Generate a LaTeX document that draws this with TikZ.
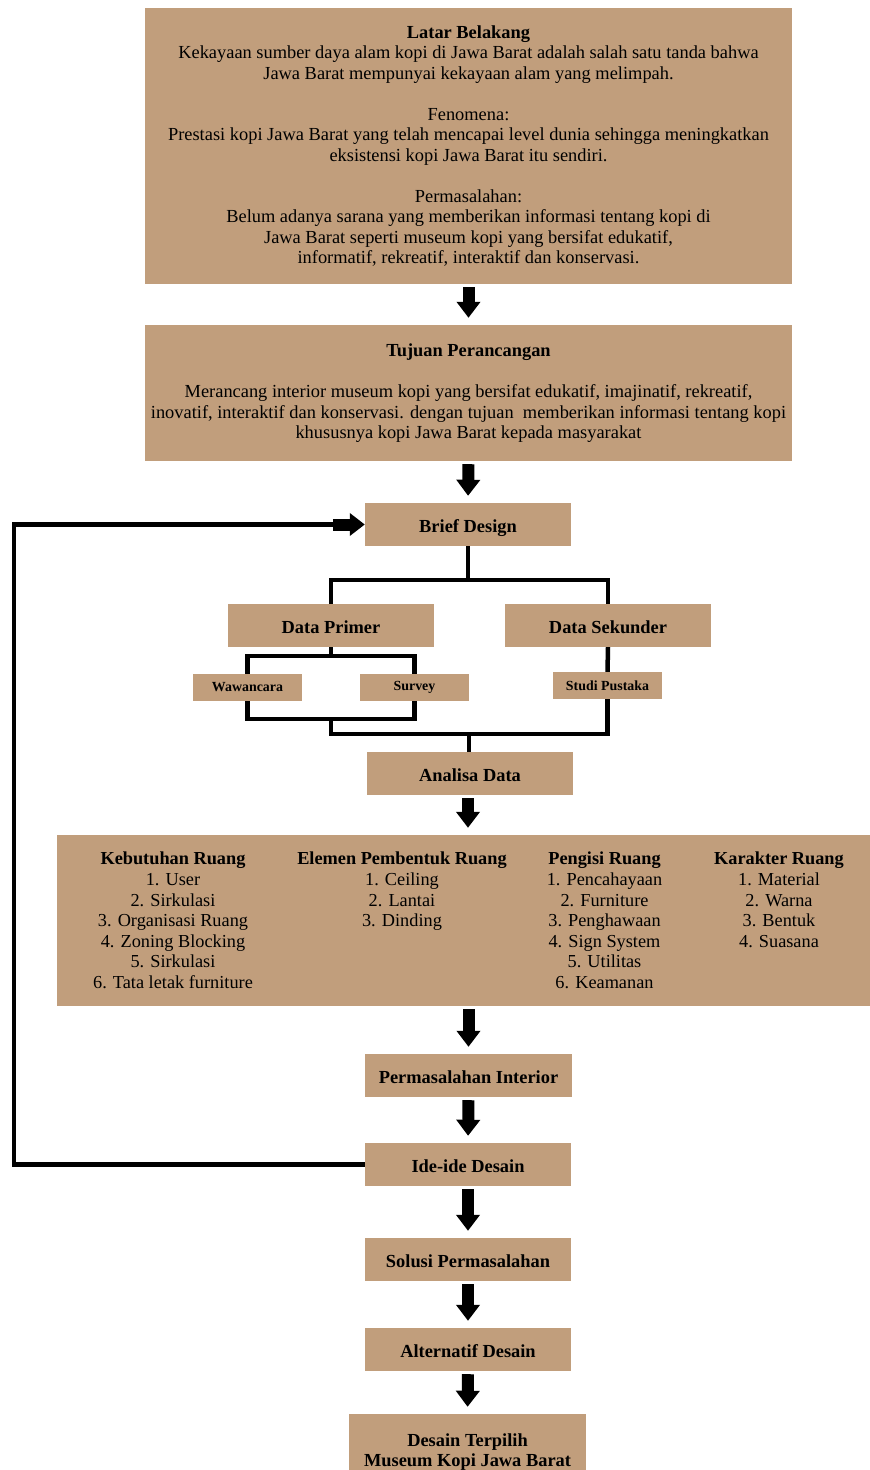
\documentclass[tikz,border=0pt]{standalone}
\usepackage{fontspec}
\setmainfont{Liberation Serif}
\usetikzlibrary{arrows.meta,calc}
\definecolor{tan}{RGB}{193,158,124}
\tikzset{
  box/.style={fill=tan, draw=none, inner sep=0, align=center, font=\fontsize{18.4}{20.5}\selectfont},
  stagebox/.style={fill=tan, draw=none, inner sep=0, align=center, minimum width=206, minimum height=43, text height=16.5, text depth=0, font=\bfseries\fontsize{18.4}{20.5}\selectfont},
  smallbox/.style={fill=tan, draw=none, inner sep=0, align=center, minimum width=109, minimum height=27, font=\bfseries\fontsize{13.9}{15}\selectfont},
  coltext/.style={inner sep=0, align=center, anchor=north, font=\fontsize{18.3}{20.6}\selectfont},
  flow/.style={line width=12, -{Triangle[width=23,length=16]}, shorten <=3, shorten >=7},
  conn/.style={line width=4.5, line join=miter},
}
\begin{document}
\begin{tikzpicture}[x=1pt,y=-1pt]
\useasboundingbox (0,0) rectangle (870,1470);
\fill[white] (0,0) rectangle (870,1470);

\node[box, minimum width=647, minimum height=276] (latar) at (468.5,146) {%
\textbf{Latar Belakang}\\
Kekayaan sumber daya alam kopi di Jawa Barat adalah salah satu tanda bahwa\\
Jawa Barat mempunyai kekayaan alam yang melimpah.\\[20.5pt]
Fenomena:\\
Prestasi kopi Jawa Barat yang telah mencapai level dunia sehingga meningkatkan\\
eksistensi kopi Jawa Barat itu sendiri.\\[20.5pt]
Permasalahan:\\
Belum adanya sarana yang memberikan informasi tentang kopi di\\
Jawa Barat seperti museum kopi yang bersifat edukatif,\\
informatif, rekreatif, interaktif dan konservasi.};

\node[box, minimum width=647, minimum height=136, text depth=3] (tujuan) at (468.5,393) {%
\textbf{Tujuan Perancangan}\\[20.5pt]
Merancang interior museum kopi yang bersifat edukatif, imajinatif, rekreatif,\\
inovatif, interaktif dan konservasi. dengan tujuan\ \ memberikan informasi tentang kopi\\
khususnya kopi Jawa Barat kepada masyarakat};

\node[stagebox] (brief) at (468,524.5) {Brief Design};
\node[stagebox] (primer) at (331,625.5) {Data Primer};
\node[stagebox] (sekunder) at (608,625.5) {Data Sekunder};
\node[smallbox] (waw) at (247.5,687.5) {Wawancara};
\node[smallbox] (sur) at (414.5,687.5) {Survey};
\node[smallbox] (studi) at (607.5,685.5) {Studi Pustaka};
\node[stagebox] (analisa) at (470,773.5) {Analisa Data};

\node[fill=tan, inner sep=0, minimum width=813, minimum height=171] (analbox) at (463.5,920.5) {};
\node[coltext] (kebutuhan) at (173,852) {\textbf{Kebutuhan Ruang}\\1. User\\2. Sirkulasi\\3. Organisasi Ruang\\4. Zoning Blocking\\5. Sirkulasi\\6. Tata letak furniture};
\node[coltext] (elemen) at (402,852) {\textbf{Elemen Pembentuk Ruang}\\1. Ceiling\\2. Lantai\\3. Dinding};
\node[coltext] (pengisi) at (604.5,852) {\textbf{Pengisi Ruang}\\1. Pencahayaan\\2. Furniture\\3. Penghawaan\\4. Sign System\\5. Utilitas\\6. Keamanan};
\node[coltext] (karakter) at (779,852) {\textbf{Karakter Ruang}\\1. Material\\2. Warna\\3. Bentuk\\4. Suasana};

\node[stagebox, minimum width=207] (permasalahan) at (468.5,1075.5) {Permasalahan Interior};
\node[stagebox] (ide) at (468,1164.5) {Ide-ide Desain};
\node[stagebox] (solusi) at (468,1259.5) {Solusi Permasalahan};
\node[stagebox] (alternatif) at (468,1349.5) {Alternatif Desain};
\node[stagebox, minimum width=237, minimum height=76, text height=, text depth=] (terpilih) at (467.5,1452) {Desain Terpilih\\Museum Kopi Jawa Barat};

% flow arrows
\draw[flow] (latar.south) -- (tujuan.north);
\draw[flow] (tujuan.south) -- (brief.north);
\draw[flow] (analisa.south -| brief.south) -- (analbox.north -| brief.south);
\draw[flow] (analbox.south -| permasalahan.north) -- (permasalahan.north);
\draw[flow] (permasalahan.south) -- (ide.north);
\draw[flow] (ide.south) -- (solusi.north);
\draw[flow] (solusi.south) -- (alternatif.north);
\draw[flow] (alternatif.south) -- (terpilih.north);

% tree connectors
\coordinate (j1) at (468,580);
\coordinate (j2) at (331,656);
\coordinate (j3) at (331,719);
\coordinate (j4) at (469,734);
\draw[conn] (brief.south) -- (j1);
\draw[conn] (primer.north) -- (primer.north |- j1) -- (sekunder.north |- j1) -- (sekunder.north);
\draw[conn] (primer.south) -- (j2);
\draw[conn] (waw.north) -- (waw.north |- j2) -- (sur.north |- j2) -- (sur.north);
\draw[conn] (waw.south) -- (waw.south |- j3) -- (sur.south |- j3) -- (sur.south);
\draw[conn] (j3) -- (j3 |- j4) -- (studi.south |- j4) -- (studi.south);
\draw[conn] (sekunder.south) -- (studi.north);
\draw[conn] (j4) -- (analisa.north -| j4);

% feedback loop
\coordinate (fb) at (14,524.5);
\draw[conn] (ide.west) -| (fb) -- ($(brief.west)+(-30,0)$);
\draw[line width=12, -{Triangle[width=22,length=15]}] ($(brief.west)+(-32,0)$) -- (brief.west);
\end{tikzpicture}
\end{document}
